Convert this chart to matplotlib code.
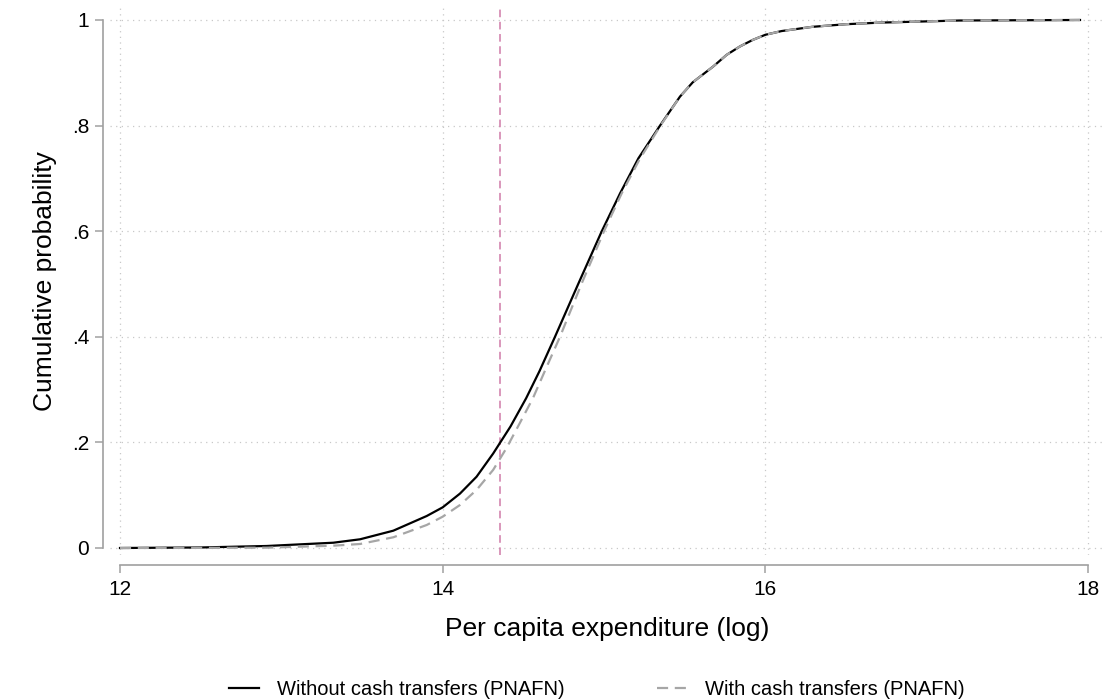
import numpy as np
import matplotlib.pyplot as plt

plt.rcParams['font.family'] = ['Liberation Sans', 'DejaVu Sans']

# CDF of log per capita expenditure, without transfers
x_without = [12.0, 12.5, 12.909, 13.322, 13.488, 13.694, 13.901, 14.0, 14.107, 14.21,
             14.313, 14.42, 14.517, 14.6, 14.696, 14.84, 14.986, 15.1,
             15.213, 15.347, 15.471, 15.55, 15.677, 15.76, 15.843, 15.92, 16.0,
             16.1, 16.29, 16.5, 16.71, 17.2, 17.95]
y_without = [0.0, 0.001, 0.0038, 0.010, 0.0165, 0.0328, 0.0606, 0.077, 0.103, 0.135,
             0.179, 0.230, 0.2835, 0.335, 0.40, 0.50, 0.60, 0.672,
             0.738, 0.80, 0.855, 0.882, 0.912, 0.934, 0.950, 0.962, 0.972,
             0.979, 0.987, 0.992, 0.995, 0.999, 1.0]

# CDF with transfers
x_with = [12.0, 12.5, 12.909, 13.322, 13.488, 13.694, 13.901, 14.0, 14.107, 14.21,
          14.313, 14.395, 14.47, 14.559, 14.64, 14.727, 14.86, 15.0, 15.11,
          15.22, 15.35, 15.471, 15.55, 15.677, 15.76, 15.843, 15.92, 16.0,
          16.1, 16.29, 16.5, 16.71, 17.2, 17.95]
y_with = [0.0, 0.0002, 0.0006, 0.0044, 0.0076, 0.0203, 0.0436, 0.0593, 0.0814, 0.110,
          0.148, 0.189, 0.232, 0.2835, 0.34, 0.40, 0.50, 0.60, 0.672,
          0.736, 0.80, 0.855, 0.882, 0.912, 0.934, 0.950, 0.962, 0.972,
          0.979, 0.987, 0.992, 0.995, 0.999, 1.0]

poverty_line = 14.355

xticks = [12, 14, 16, 18]
yticks = [0, 0.2, 0.4, 0.6, 0.8, 1]
ylabels = ['0', '.2', '.4', '.6', '.8', '1']

W, H = 1118, 700
fig = plt.figure(figsize=(W / 100, H / 100), dpi=100)
left, right, top, bottom = 110, 1105, 8, 555
ax = fig.add_axes([left / W, 1 - bottom / H, (right - left) / W, (bottom - top) / H])

axcol = '#a0a0a0'
ax.plot(x_without, y_without, color='black', lw=1.6, zorder=3,
        label='Without cash transfers (PNAFN)')
ax.plot(x_with, y_with, color='#a6a6a6', lw=1.6, dashes=(5, 3), zorder=4,
        label='With cash transfers (PNAFN)')
ax.axvline(poverty_line, color='#cf7aa8', lw=1.1, dashes=(5, 3), zorder=2)

ax.set_xlim(11.938, 18.105)
ax.set_ylim(-0.01326, 1.0227)
ax.set_xticks(xticks)
ax.set_yticks(yticks)
ax.set_yticklabels(ylabels)

ax.grid(True, color='#c8c8c8', lw=0.9, linestyle=(0, (1, 3.5)))
ax.set_axisbelow(True)

for s in ['top', 'right']:
    ax.spines[s].set_visible(False)
ax.spines['left'].set_position(('outward', 5))
ax.spines['bottom'].set_position(('outward', 7.2))
ax.spines['left'].set_bounds(0, 1)
ax.spines['bottom'].set_bounds(12, 18)
for s in ['left', 'bottom']:
    ax.spines[s].set_color(axcol)
    ax.spines[s].set_linewidth(1.2)

ax.tick_params(axis='both', colors=axcol, labelcolor='black', length=6, width=1.1,
               labelsize=15)
ax.tick_params(axis='x', pad=5)
ax.tick_params(axis='y', pad=4)

ax.set_xlabel('Per capita expenditure (log)', fontsize=19, labelpad=13)
ax.set_ylabel('Cumulative probability', fontsize=19, labelpad=11)

fig.legend(loc='lower center', bbox_to_anchor=(0.534, -0.013), ncol=2, frameon=False,
           fontsize=14.5, handlelength=1.49, handletextpad=0.9, columnspacing=4.6,
           borderaxespad=0.1)

fig.savefig('out.png', dpi=100, facecolor='white')
